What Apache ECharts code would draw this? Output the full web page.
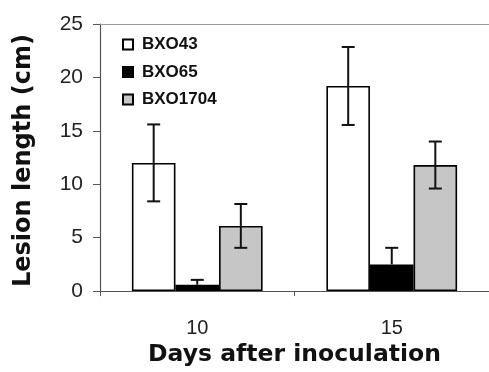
<!DOCTYPE html>
<html><head><meta charset="utf-8">
<script src="https://cdn.jsdelivr.net/npm/echarts@6/dist/echarts.min.js"></script>
<style>html,body{margin:0;padding:0;background:#fff}#c{width:489px;height:372px}</style>
</head><body><div id="c"></div>
<script>
const categories = ['10', '15'];
const seriesNames = ['BXO43', 'BXO65', 'BXO1704'];
const bxo43 = [12.0, 19.2];
const bxo65 = [0.6, 2.5];
const bxo1704 = [6.1, 11.8];
const err43 = [3.6, 3.65];
const err65 = [0.45, 1.55];
const err1704 = [2.05, 2.2];
const yTicks = [0, 5, 10, 15, 20, 25];

const values = [bxo43, bxo65, bxo1704];
const errs = [err43, err65, err1704];
const fills = ['#ffffff', '#000000', '#c6c6c6'];
const BAR_FRAC = 0.224;

const chart = echarts.init(document.getElementById('c'), null, {renderer: 'canvas'});
const font = 'Liberation Sans, Arial, sans-serif';
const titleFont = 'DejaVu Sans, sans-serif';

const errData = [];
for (let s = 0; s < 3; s++) for (let c = 0; c < categories.length; c++) {
  errData.push([c, values[s][c], errs[s][c], s]);
}

const series = seriesNames.map((n, i) => ({
  name: n, type: 'bar', data: values[i], barWidth: (BAR_FRAC * 100) + '%', barGap: '0%',
  itemStyle: {color: fills[i], borderColor: '#000', borderWidth: 1.6},
  emphasis: {disabled: true}
}));
series.push({
  type: 'custom', name: 'err', z: 5,
  data: errData,
  renderItem: function (params, api) {
    const c = api.value(0), v = api.value(1), e = api.value(2), s = api.value(3);
    const band = api.size([1, 0])[0];
    const bw = band * BAR_FRAC;
    const center = api.coord([c, v]);
    const x = center[0] + (s - 1) * bw;
    const hi = api.coord([c, v + e])[1];
    const lo = api.coord([c, Math.max(v - e, 0)])[1];
    const cap = 6.5;
    const st = {stroke: '#111', lineWidth: 2};
    const children = [
      {type: 'line', shape: {x1: x - cap, y1: hi, x2: x + cap, y2: hi}, style: st},
      {type: 'line', shape: {x1: x, y1: hi, x2: x, y2: center[1]}, style: st}
    ];
    if (s !== 1) {
      children.push({type: 'line', shape: {x1: x, y1: center[1], x2: x, y2: lo}, style: st});
      children.push({type: 'line', shape: {x1: x - cap, y1: lo, x2: x + cap, y2: lo}, style: st});
    }
    return {type: 'group', children: children};
  }
});

chart.setOption({
  animation: false,
  backgroundColor: '#fff',
  grid: {left: 100, top: 24, height: 268, width: 398, containLabel: false},
  legend: {
    data: seriesNames, orient: 'vertical', left: 122, top: 36, padding: 0,
    itemWidth: 10, itemHeight: 10, itemGap: 10.5, icon: 'rect',
    textStyle: {fontFamily: font, fontWeight: 'bold', fontSize: 17, lineHeight: 17, color: '#111', padding: [0, 0, 0, 4]}
  },
  xAxis: [{
    type: 'category', data: categories, position: 'bottom',
    axisLine: {show: true, lineStyle: {color: '#555', width: 1.2}},
    axisTick: {show: true, length: 5, lineStyle: {color: '#555'}},
    axisLabel: {fontFamily: font, fontSize: 20, color: '#222', margin: 27},
    name: 'Days after inoculation', nameLocation: 'middle', nameGap: 50,
    nameTextStyle: {fontFamily: titleFont, fontSize: 23.5, fontWeight: 'bold', color: '#111'}
  }, {
    type: 'category', data: categories, position: 'top',
    axisLine: {show: true, lineStyle: {color: '#999', width: 1.2}},
    axisTick: {show: false}, axisLabel: {show: false}
  }],
  yAxis: {
    type: 'value', min: 0, max: 25, interval: 5,
    axisLine: {show: true, lineStyle: {color: '#555', width: 1.2}},
    axisTick: {show: true, length: 7, lineStyle: {color: '#555'}},
    splitLine: {show: false},
    axisLabel: {fontFamily: font, fontSize: 21, color: '#222', margin: 17,
      formatter: v => yTicks.indexOf(v) >= 0 ? String(v) : ''},
    name: 'Lesion length (cm)', nameLocation: 'middle', nameGap: 64,
    nameTextStyle: {fontFamily: titleFont, fontSize: 24, fontWeight: 'bold', color: '#111', padding: [0, 6, 0, 0]}
  },
  series: series
});
</script></body></html>
